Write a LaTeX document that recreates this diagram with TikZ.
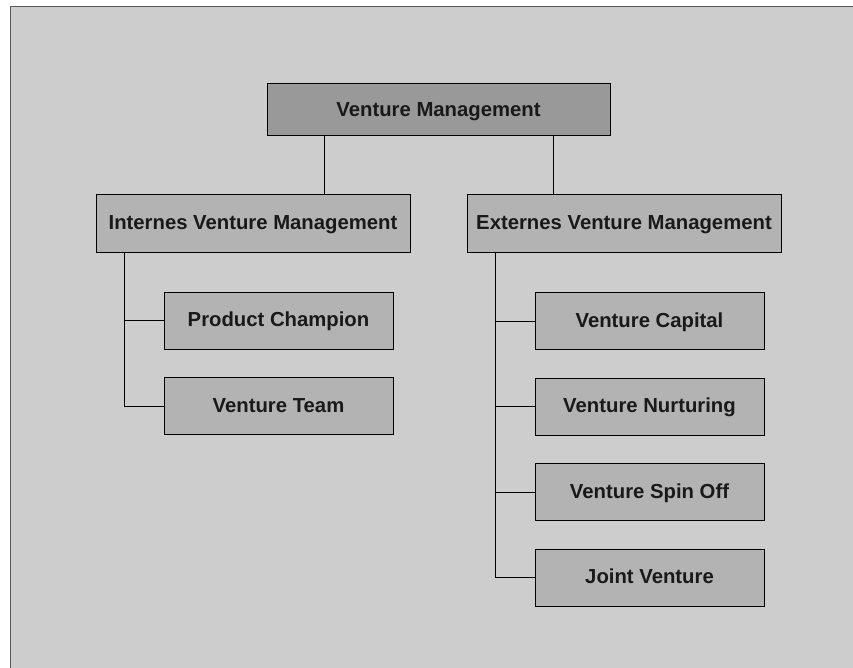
\documentclass[tikz,border=0pt]{standalone}
\usepackage{fontspec}
\setmainfont{Liberation Sans}
\usetikzlibrary{shapes,arrows,calc}
\definecolor{framegray}{RGB}{205,205,205}
\definecolor{boxgray}{RGB}{179,179,179}
\definecolor{topgray}{RGB}{153,153,153}
\tikzstyle{block} = [rectangle, draw=black, fill=boxgray, line width=1pt,
    minimum width=229pt, minimum height=57pt, font=\bfseries\fontsize{20.3}{24}\selectfont,
    text=black!90, inner sep=0pt, text height=14.5pt, text depth=2pt]
\tikzstyle{head} = [block, fill=boxgray, minimum width=314pt]
\tikzstyle{root} = [block, fill=topgray, minimum width=343pt, minimum height=52pt]
\tikzstyle{line} = [draw, black, line width=1pt]

\begin{document}
\begin{tikzpicture}[x=1pt,y=-1pt]
  \clip (0,0) rectangle (853,668);
  \useasboundingbox (0,0) rectangle (853,668);
  % background frame
  \draw[fill=framegray, draw=black!65, line width=1pt] (10,7) rectangle (870,690);

  % Place nodes
  \node [root] (vm) at (438.5,110) {Venture Management};

  \node [head] (ivm) at (253,223.5) {Internes Venture Management};
  \node [head] (evm) at (624,223.5) {Externes Venture Management};

  \node [block] (pc) at (278.5,320.5) {Product Champion};
  \node [block, below of=pc, node distance=85.5pt] (vt) {Venture Team};

  \node [block] (vc) at (649.5,321) {Venture Capital};
  \node [block, below of=vc, node distance=85.5pt] (vn) {Venture Nurturing};
  \node [block, below of=vn, node distance=85.5pt] (vs) {Venture Spin Off};
  \node [block, below of=vs, node distance=85.5pt] (jv) {Joint Venture};

  % root to heads
  \path [line] ([xshift=-114.5pt]vm.south) -- ([xshift=-114.5pt]vm.south |- ivm.north);
  \path [line] ([xshift=114.5pt]vm.south) -- ([xshift=114.5pt]vm.south |- evm.north);

  % left branch
  \path [line] ([xshift=29pt]ivm.south west) |- (vt.west);
  \path [line] ([xshift=29pt]ivm.south west |- pc.west) -- (pc.west);

  % right branch
  \path [line] ([xshift=29pt]evm.south west) |- (jv.west);
  \foreach \n in {vc,vn,vs}
    \path [line] ([xshift=29pt]evm.south west |- \n.west) -- (\n.west);
\end{tikzpicture}
\end{document}
